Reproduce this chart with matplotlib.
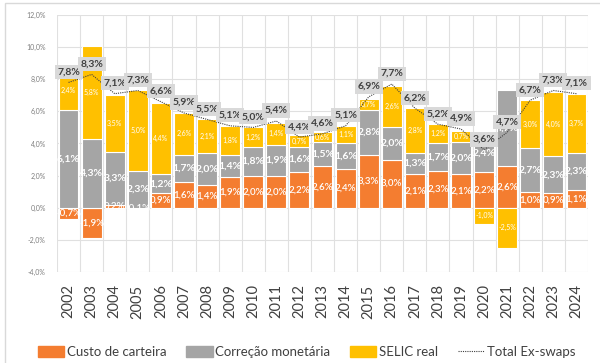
import numpy as np
import matplotlib
matplotlib.use('Agg')
import matplotlib.pyplot as plt
from matplotlib.patches import Rectangle
from matplotlib.lines import Line2D

plt.rcParams['font.family'] = ['Lato', 'DejaVu Sans']

years = ['2002', '2003', '2004', '2005', '2006', '2007', '2008', '2009', '2010', '2011', '2012', '2013',
         '2014', '2015', '2016', '2017', '2018', '2019', '2020', '2021', '2022', '2023', '2024']
custo = [-0.7, -1.9, 0.2, -0.1, 0.9, 1.6, 1.4, 1.9, 2.0, 2.0, 2.2, 2.6,
         2.4, 3.3, 3.0, 2.1, 2.3, 2.1, 2.2, 2.6, 1.0, 0.9, 1.1]
correcao = [6.1, 4.3, 3.3, 2.3, 1.2, 1.7, 2.0, 1.4, 1.8, 1.9, 1.6, 1.5,
            1.6, 2.8, 2.0, 1.3, 1.7, 2.0, 2.4, 4.7, 2.7, 2.3, 2.3]
selic = [2.4, 5.8, 3.5, 5.0, 4.4, 2.6, 2.1, 1.8, 1.2, 1.4, 0.7, 0.6,
         1.1, 0.7, 2.6, 2.8, 1.2, 0.7, -1.0, -2.5, 3.0, 4.0, 3.7]
total = [7.8, 8.3, 7.1, 7.3, 6.6, 5.9, 5.5, 5.1, 5.0, 5.4, 4.4, 4.6,
         5.1, 6.9, 7.7, 6.2, 5.2, 4.9, 3.6, 4.7, 6.7, 7.3, 7.1]

series = [
    ('Custo de carteira', custo, '#F47D30', 7, 'semibold'),
    ('Correção monetária', correcao, '#A5A5A5', 7.5, 'bold'),
    ('SELIC real', selic, '#FFC000', 5, 'normal'),
]


def fmt(v):
    return f'{v:.1f}%'.replace('.', ',')


fig = plt.figure(figsize=(6, 3.63), dpi=100)
ax = fig.add_axes([0.095, 0.2507, 0.885, 0.708])

# chart border
fig.patches.append(Rectangle((5 / 600, -0.2), 1.2, 1.2 - 3 / 363, transform=fig.transFigure,
                             fill=False, edgecolor='#d9d9d9', lw=1))

x = np.arange(len(years))
pos = np.zeros(len(years))
neg = np.zeros(len(years))
handles = []
for name, vals, color, fs, fw in series:
    vals = np.array(vals)
    bottom = np.where(vals >= 0, pos, neg)
    ax.bar(x, vals, 0.86, bottom=bottom, color=color, edgecolor='white', lw=0.8, zorder=2)
    handles.append(Rectangle((0, 0), 1, 1, color=color))
    for i, v in enumerate(vals):
        ax.text(x[i], bottom[i] + v / 2, fmt(v), ha='center', va='center', color='white',
                fontsize=fs, fontweight=fw, zorder=4)
    pos = np.where(vals >= 0, pos + vals, pos)
    neg = np.where(vals < 0, neg + vals, neg)

ax.plot(x, total, color='#404040', lw=0.8, ls=(0, (1, 1)), zorder=5)
handles.append(Line2D([], [], color='#404040', lw=0.8, ls=(0, (1, 1))))
for i, t in enumerate(total):
    ax.text(x[i], t + 0.65, fmt(t), ha='center', va='center', color='#404040', fontsize=7.5,
            fontweight='bold', zorder=6,
            bbox=dict(boxstyle='square,pad=0.25', facecolor='#d9d9d9', edgecolor='none'))

ax.set_xlim(-0.5, len(years) - 0.5)
ax.set_ylim(-4, 12)
yt = np.arange(-4, 13, 2)
ax.set_yticks(yt)
ax.set_yticklabels([fmt(v) for v in yt], fontsize=5, color='#7f7f7f')
ax.set_xticks(x)
ax.set_xticklabels(years, rotation=90, fontsize=10.5, color='#404040')
ax.tick_params(length=0, pad=9)
ax.tick_params(axis='y', pad=8)

for yv in yt:
    ax.axhline(yv, color='#e0e0e0', lw=0.8, zorder=0)
for b in np.arange(-0.5, len(years), 1):
    ax.axvline(b, color='#e0e0e0', lw=0.8, zorder=0)
for s in ax.spines.values():
    s.set_visible(False)

fig.legend(handles, [s[0] for s in series] + ['Total Ex-swaps'], loc='center', ncol=4,
           bbox_to_anchor=(0.511, 0.03), frameon=False, fontsize=9.5, labelcolor='#404040',
           handlelength=2.0, handleheight=0.8, handletextpad=0.2, columnspacing=1.5)

fig.savefig('out.png', dpi=100)
